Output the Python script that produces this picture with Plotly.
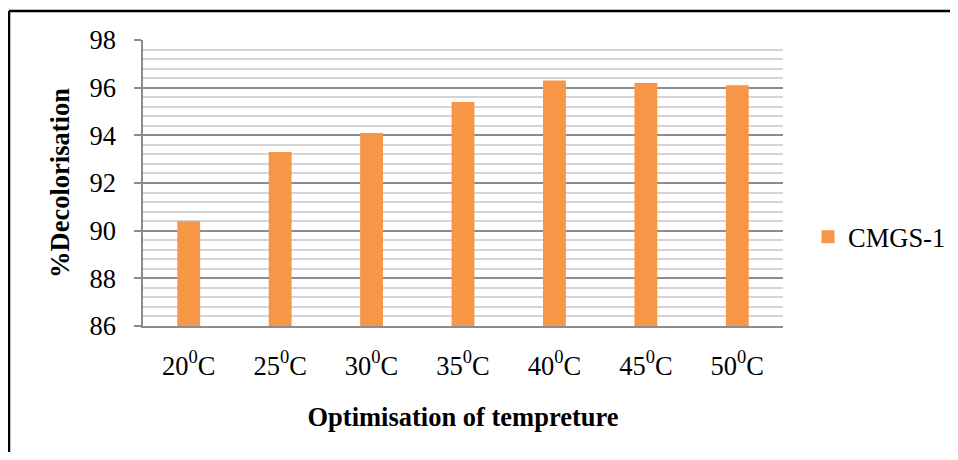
import plotly.graph_objects as go

categories = ["20<sup>0</sup>C", "25<sup>0</sup>C", "30<sup>0</sup>C", "35<sup>0</sup>C",
              "40<sup>0</sup>C", "45<sup>0</sup>C", "50<sup>0</sup>C"]
values = [90.4, 93.3, 94.1, 95.4, 96.3, 96.2, 96.1]
series_name = "CMGS-1"
y_ticks = [86, 88, 90, 92, 94, 96, 98]

FONT = "Liberation Serif"
FS = 26.5
BAR_COLOR = "#F79646"

fig = go.Figure()
fig.add_trace(go.Bar(
    x=categories, y=values, name=series_name,
    marker=dict(color=BAR_COLOR, line=dict(width=0)),
    showlegend=False,
))
# legend entry (square swatch)
fig.add_trace(go.Scatter(
    x=[None], y=[None], mode="markers", name=series_name,
    marker=dict(symbol="square", size=13, color=BAR_COLOR),
    showlegend=True,
))

OFF = 8  # default page body margin
W, H = 958 - OFF, 460 - 2 * OFF
L, T = 143 - OFF, 40 - OFF
pw, ph = 640, 286
R, B = W - L - pw, H - T - ph

def px(x):  # screen px -> paper
    return (x - OFF - L) / pw

def py(y):
    return (T + ph - (y - OFF)) / ph

fig.update_layout(
    width=W, height=H,
    margin=dict(l=L, r=R, t=T, b=B, autoexpand=False),
    paper_bgcolor="white", plot_bgcolor="white",
    font=dict(family=FONT, size=FS, color="black"),
    bargap=0.75,
    showlegend=True,
    legend=dict(x=px(808), y=py(237), xanchor="left", yanchor="middle",
                font=dict(family=FONT, size=FS, color="black"),
                bgcolor="rgba(0,0,0,0)", itemwidth=30),
    xaxis=dict(
        type="category",
        showline=True, linecolor="#8c8c8c", linewidth=1.5,
        ticks="", showgrid=False,
        ticklabelstandoff=15,
        tickfont=dict(family=FONT, size=FS, color="black"),
        title=dict(text="<b>Optimisation of tempreture</b>", standoff=28,
                   font=dict(family=FONT, size=FS, color="black")),
    ),
    yaxis=dict(
        range=[86, 98], tickvals=y_ticks,
        showline=True, linecolor="#8c8c8c", linewidth=1.5,
        ticks="outside", ticklen=7, tickcolor="#8c8c8c", tickwidth=1.5,
        ticklabelstandoff=13,
        showgrid=True, gridcolor="#8c8c8c", gridwidth=1.5,
        zeroline=False,
        minor=dict(dtick=0.4, tick0=86, showgrid=True, gridcolor="#d4d4d4", gridwidth=1.5, ticks=""),
        tickfont=dict(family=FONT, size=FS, color="black"),
        title=dict(text="<b>%Decolorisation</b>", standoff=12,
                   font=dict(family=FONT, size=FS, color="black")),
    ),
    shapes=[
        dict(type="line", xref="paper", yref="paper",
             x0=px(9), x1=px(980), y0=py(11), y1=py(11),
             line=dict(color="black", width=2.5), layer="below"),
        dict(type="line", xref="paper", yref="paper",
             x0=px(9), x1=px(9), y0=py(11), y1=py(480),
             line=dict(color="black", width=2.5), layer="below"),
    ],
)

fig.write_html("out.html")
